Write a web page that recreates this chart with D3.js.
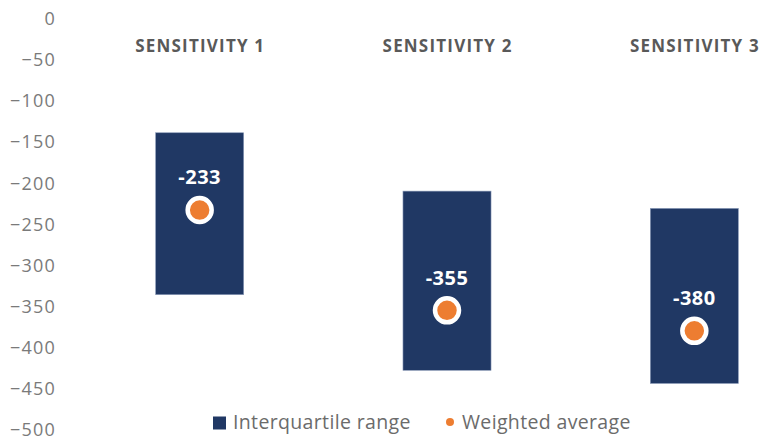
<!DOCTYPE html>
<html>
<head>
<meta charset="utf-8">
<script src="https://cdn.jsdelivr.net/npm/d3@7"></script>
<style>
  html, body { margin: 0; padding: 0; background: #fff; }
  svg { display: block; }
</style>
</head>
<body>
<div id="chart"></div>
<script>
const categories = ["SENSITIVITY 1", "SENSITIVITY 2", "SENSITIVITY 3"];
const iqrHigh = [-139, -210, -231];
const iqrLow = [-336, -428, -444];
const weightedAvg = [-233, -355, -380];
const yTicks = [0, -50, -100, -150, -200, -250, -300, -350, -400, -450, -500];
const legendLabels = ["Interquartile range", "Weighted average"];

const W = 765, H = 438;
const svg = d3.select("#chart").append("svg").attr("width", W).attr("height", H);

const FONT = "'Open Sans', sans-serif";
const y = d3.scaleLinear().domain([0, -500]).range([18.5, 429.5]);
const x = d3.scaleBand().domain(categories).range([76, 818])
  .paddingInner(0.644).paddingOuter(0.322);

// y axis labels (no line)
const yAxis = d3.axisLeft(y).tickValues(yTicks).tickSize(0).tickPadding(0).tickFormat(d3.format("d"));
const gy = svg.append("g").attr("transform", "translate(56,0)").call(yAxis);
gy.select(".domain").remove();
gy.selectAll("text").attr("font-family", FONT).attr("font-size", 18).attr("fill", "#7a7a7a")
  .attr("letter-spacing", 1.2)
  .attr("dy", "0.34em");

// category labels
svg.append("g").selectAll("text").data(categories).join("text")
  .attr("x", d => x(d) + x.bandwidth() / 2 + 0.6)
  .attr("y", 52)
  .attr("text-anchor", "middle")
  .attr("font-family", FONT).attr("font-weight", 700).attr("font-size", 17)
  .attr("letter-spacing", 1.2)
  .attr("fill", "#595959")
  .text(d => d);

// bars
svg.append("g").selectAll("rect").data(categories).join("rect")
  .attr("x", d => x(d))
  .attr("width", x.bandwidth())
  .attr("y", (d, i) => y(iqrHigh[i]))
  .attr("height", (d, i) => y(iqrLow[i]) - y(iqrHigh[i]))
  .attr("fill", "#203864")
  .attr("stroke", "#8a9bb8").attr("stroke-width", 0.6);

// points
svg.append("g").selectAll("circle").data(categories).join("circle")
  .attr("cx", d => x(d) + x.bandwidth() / 2)
  .attr("cy", (d, i) => y(weightedAvg[i]))
  .attr("r", 12)
  .attr("fill", "#ED7D31")
  .attr("stroke", "#fff").attr("stroke-width", 4.5);

// value labels
svg.append("g").selectAll("text").data(categories).join("text")
  .attr("x", d => x(d) + x.bandwidth() / 2)
  .attr("y", (d, i) => y(weightedAvg[i]) - 33)
  .attr("dy", "0.36em")
  .attr("text-anchor", "middle")
  .attr("font-family", FONT).attr("font-weight", 700).attr("font-size", 20)
  .attr("letter-spacing", 0.5)
  .attr("fill", "#ffffff")
  .text((d, i) => weightedAvg[i]);

// legend
const lg = svg.append("g");
lg.append("rect").attr("x", 213).attr("y", 416.5).attr("width", 13).attr("height", 13).attr("fill", "#203864");
lg.append("text").attr("x", 233).attr("y", 422.5).attr("dy", "0.34em")
  .attr("font-family", FONT).attr("font-size", 19.5).attr("letter-spacing", 0.35).attr("fill", "#6b6b6b").text(legendLabels[0]);
lg.append("circle").attr("cx", 450).attr("cy", 422).attr("r", 4).attr("fill", "#ED7D31");
lg.append("text").attr("x", 462).attr("y", 422.5).attr("dy", "0.34em")
  .attr("font-family", FONT).attr("font-size", 19.5).attr("letter-spacing", 0.35).attr("fill", "#6b6b6b").text(legendLabels[1]);
</script>
</body>
</html>
